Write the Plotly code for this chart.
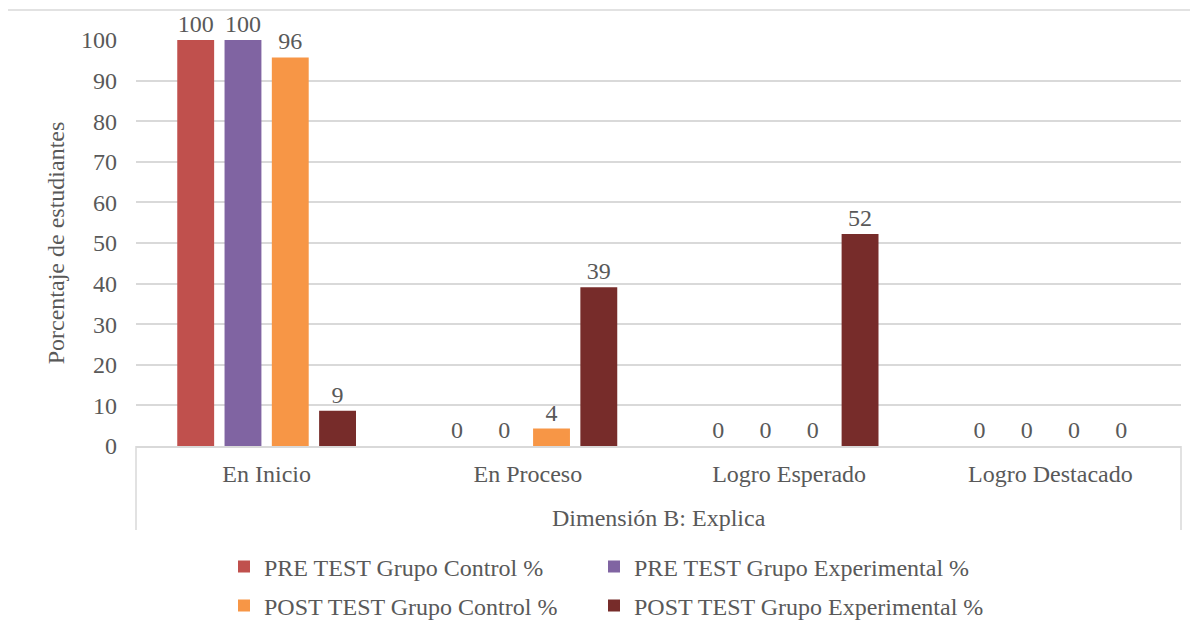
import plotly.graph_objects as go

categories = ["En Inicio", "En Proceso", "Logro Esperado", "Logro Destacado"]
series_names = [
    "PRE TEST Grupo Control %",
    "PRE TEST Grupo Experimental %",
    "POST TEST Grupo Control %",
    "POST TEST Grupo Experimental %",
]
pre_control = [100, 0, 0, 0]
pre_experimental = [100, 0, 0, 0]
post_control = [95.7, 4.3, 0, 0]
post_experimental = [8.7, 39.1, 52.2, 0]
colors = ["#C0504D", "#8064A2", "#F79646", "#772C2A"]
legend_ids = ["legend", "legend2", "legend3", "legend4"]
y_ticks = list(range(0, 101, 10))
axis_title = "Porcentaje de estudiantes"
group_title = "Dimensión B: Explica"

FONT = "Liberation Serif, Times New Roman, serif"
TXT = "#595959"
GRID = "#D9D9D9"

W, H = 1190, 626

fig = go.Figure()
for name, vals, col, lg in zip(series_names,
                               [pre_control, pre_experimental, post_control, post_experimental],
                               colors, legend_ids):
    fig.add_trace(go.Bar(
        x=categories, y=vals, name=name, legend=lg,
        marker=dict(color=col, line=dict(width=0)),
        texttemplate="%{y:.0f}", textposition="outside",
        textfont=dict(family=FONT, size=24, color=TXT),
        cliponaxis=False, constraintext="none",
    ))

def leg(xpx, ypx):
    return dict(
        orientation="h", xref="container", yref="container",
        x=xpx / W, y=(H - ypx) / H, xanchor="left", yanchor="middle",
        font=dict(family=FONT, size=24, color=TXT),
        bgcolor="rgba(0,0,0,0)",
    )

fig.update_layout(
    width=W, height=H,
    margin=dict(l=128, r=17, t=32, b=188, autoexpand=False),
    paper_bgcolor="white", plot_bgcolor="white",
    barmode="group", bargap=0.276, bargroupgap=0.22,
    font=dict(family=FONT, size=24, color=TXT),
    showlegend=True,
    legend=leg(216, 559),
    legend2=leg(586, 559),
    legend3=leg(216, 598),
    legend4=leg(586, 598),
    shapes=[
        dict(type="line", xref="paper", yref="paper", x0=0, x1=0, y0=0, y1=-0.207,
             line=dict(color=GRID, width=1.5)),
        dict(type="line", xref="paper", yref="paper", x0=1, x1=1, y0=0, y1=-0.207,
             line=dict(color=GRID, width=1.5)),
        dict(type="rect", xref="paper", yref="paper", x0=-0.1234, x1=1.3, y0=-1.0, y1=1.0739,
             line=dict(color=GRID, width=1.5), fillcolor="rgba(0,0,0,0)", layer="below"),
    ],
    annotations=[
        dict(text=group_title, xref="paper", yref="paper", x=0.5, y=-0.1773,
             xanchor="center", yanchor="middle", showarrow=False,
             font=dict(family=FONT, size=24, color=TXT)),
    ],
)

fig.update_xaxes(
    showline=True, linecolor=GRID, linewidth=1.5, automargin=False,
    showgrid=False, ticks="", ticklabelstandoff=5,
    tickfont=dict(family=FONT, size=24, color=TXT),
)
fig.update_yaxes(
    range=[0, 100], tickvals=y_ticks, showgrid=True, gridcolor=GRID, gridwidth=1.5,
    zeroline=False, showline=False, ticks="", ticklabelstandoff=18, automargin=False,
    tickfont=dict(family=FONT, size=24, color=TXT),
    title=dict(text=axis_title, font=dict(family=FONT, size=24, color=TXT), standoff=9),
)

fig.write_html("out.html")
